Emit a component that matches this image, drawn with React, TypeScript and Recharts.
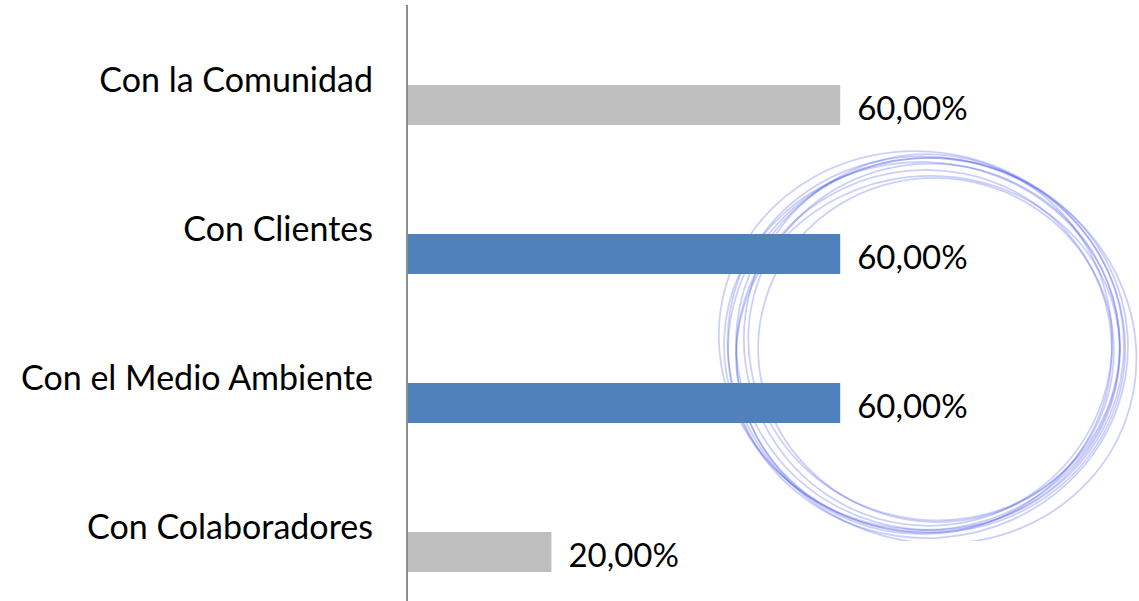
import { BarChart, Bar, XAxis, YAxis, Cell, LabelList, Rectangle, Customized } from "recharts";

const categories = ["Con la Comunidad", "Con Clientes", "Con el Medio Ambiente", "Con Colaboradores"];
const values = [0.6, 0.6, 0.6, 0.2];
const valueLabels = ["60,00%", "60,00%", "60,00%", "20,00%"];

const barColors = ["#BFBFBF", "#4F81BD", "#4F81BD", "#BFBFBF"];
const FONT = "Lato, 'Open Sans', sans-serif";
const BAR_SHIFT = 25; // bars sit below the category label, not centred on it

// hand-drawn circle scribble (cx, cy, rx, ry, angle)
const scribble = [
  [928, 348, 200, 190, -4],
  [930, 344, 194, 186, 6],
  [924, 352, 188, 182, -10],
  [934, 342, 186, 178, 12],
  [922, 346, 198, 184, 2],
  [928, 354, 192, 178, -6],
  [936, 350, 178, 172, 8],
  [922, 342, 204, 190, 14],
  [928, 340, 184, 186, -14],
  [932, 350, 206, 192, 20],
];

const data = categories.map((name, i) => ({ name, value: values[i], label: valueLabels[i] }));

function ShiftedBar(props: any) {
  return <Rectangle {...props} y={props.y + BAR_SHIFT} />;
}

function ValueLabel(props: any) {
  const { x, y, width, height, value } = props;
  return (
    <text
      x={x + width + 17}
      y={y + height / 2 + BAR_SHIFT + 2}
      dominantBaseline="central"
      fontFamily={FONT}
      fontSize={33}
      fill="#000"
    >
      {value}
    </text>
  );
}

function Scribble() {
  return (
    <g>
      <defs>
        <clipPath id="scrib">
          <rect x={700} y={140} width={439} height={401} />
        </clipPath>
      </defs>
      <g clipPath="url(#scrib)" fill="none" stroke="#2a3ae0" strokeOpacity={0.24} strokeWidth={1.8}>
        {scribble.map(([cx, cy, rx, ry, a], i) => (
          <ellipse key={i} cx={cx} cy={cy} rx={rx} ry={ry} transform={`rotate(${a} ${cx} ${cy})`} />
        ))}
      </g>
    </g>
  );
}

export default function App() {
  return (
    <div style={{ width: 1139, height: 601, background: "#fff" }}>
      <style>{`body{margin:0}`}</style>
      <BarChart
        width={1139}
        height={601}
        data={data}
        layout="vertical"
        margin={{ top: 5, right: 10, bottom: 0, left: 0 }}
      >
        <XAxis type="number" domain={[0, 1]} hide />
        <YAxis
          type="category"
          dataKey="name"
          width={407}
          tickLine={false}
          axisLine={{ stroke: "#8e8e8e", strokeWidth: 2 }}
          tickMargin={28}
          tick={{ fill: "#000", fontSize: 34, fontFamily: FONT }}
        />
        <Bar dataKey="value" barSize={40} shape={<ShiftedBar />} isAnimationActive={false}>
          {data.map((d, i) => (
            <Cell key={d.name} fill={barColors[i]} />
          ))}
          <LabelList dataKey="label" content={<ValueLabel />} />
        </Bar>
        <Customized component={<Scribble />} />
      </BarChart>
    </div>
  );
}
